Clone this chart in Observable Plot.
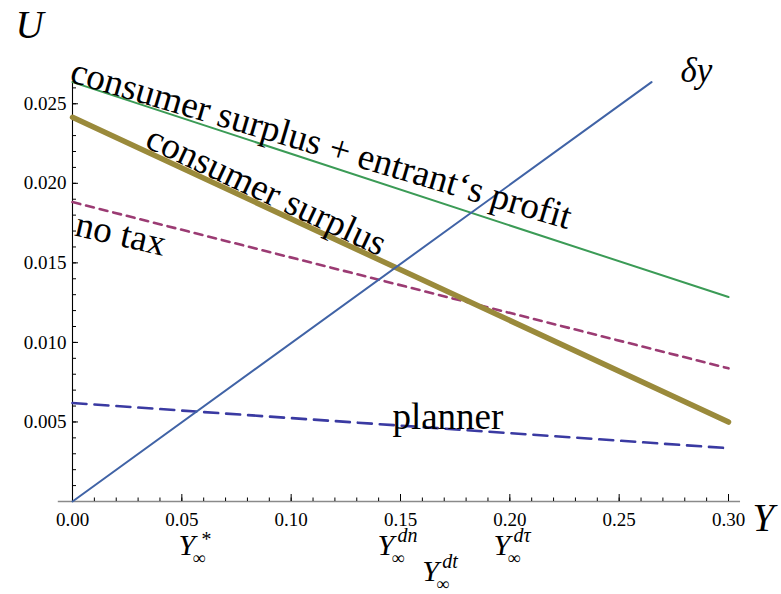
<!DOCTYPE html>
<html><head><meta charset="utf-8">
<script src="https://cdn.jsdelivr.net/npm/d3@7"></script>
<script src="https://cdn.jsdelivr.net/npm/@observablehq/plot@0.6"></script>
<style>
  body { margin: 0; background: #fff; }
  #chart svg { display: block; }
</style>
</head><body><div id="chart"></div>
<script>
// ---- data ----
const xEnds = [0, 0.30];                  // every straight curve spans this range
const deltaX = [0, 0.2648];               // δy line stops at the top of the frame
const deltaY = [0, 0.02636];
const csEntrant = [0.02636, 0.01285];     // consumer surplus + entrant's profit
const consumerSurplus = [0.02415, 0.00499];
const noTax = [0.01882, 0.00837];
const planner = [0.00619, 0.00335];

const xMajor = [0, 0.05, 0.10, 0.15, 0.20, 0.25, 0.30];
const xMinor = d3.range(0, 0.3001, 0.01);
const yMajor = [0.005, 0.010, 0.015, 0.020, 0.025];
const yMinor = d3.range(0.001, 0.0261, 0.001);
const axisExtent = [-0.0065, 0.3055];

const curveLabels = [
  {text: "consumer surplus + entrant\u2018s profit", x: -0.0018, y: 0.0264, rotate: 16.5},
  {text: "consumer surplus", x: 0.0325, y: 0.02232, rotate: 25},
  {text: "no tax", x: 0.0005, y: 0.01673, rotate: 13},
  {text: "planner", x: 0.1463, y: 0.00454, rotate: 0}
];
const deltaLabel = [{text: "\u03B4y", x: 0.278, y: 0.02634}];

const yInf = [
  {x: 0.0485, sup: "*", row: 0},
  {x: 0.1395, sup: "dn", row: 0},
  {x: 0.1925, sup: "d\u03C4", row: 0},
  {x: 0.1600, sup: "dt", row: 1}
];
const rowDy = [53, 79];

const idx = (arr) => arr.map((v, i) => i);
const F = "serif";

const marks = [
  Plot.ruleY([0], {x1: axisExtent[0], x2: axisExtent[1], stroke: "#8a8a8a", strokeWidth: 1.6}),
  Plot.ruleX([0], {stroke: "#000", strokeWidth: 1.1}),
  Plot.axisX({ticks: xMinor, tickSize: -3.5, tickFormat: () => "", label: null, stroke: "#000"}),
  Plot.axisX({ticks: xMajor, tickSize: -7, tickFormat: () => "", label: null, stroke: "#000"}),
  Plot.axisX({ticks: xMajor, tickSize: 0, tickPadding: 11, tickFormat: d3.format(".2f"), label: null, fontSize: 19, fontFamily: F, fill: "#000"}),
  Plot.axisY({ticks: yMinor, tickSize: -4, tickFormat: () => "", label: null, stroke: "#000"}),
  Plot.axisY({ticks: yMajor, tickSize: -6, tickFormat: () => "", label: null, stroke: "#000"}),
  Plot.axisY({ticks: yMajor, tickSize: 0, tickPadding: 6, tickFormat: d3.format(".3f"), label: null, fontSize: 19, fontFamily: F, fill: "#000"}),

  Plot.line(idx(csEntrant), {x: i => xEnds[i], y: i => csEntrant[i], stroke: "#3b9b56", strokeWidth: 2}),
  Plot.line(idx(noTax), {x: i => xEnds[i], y: i => noTax[i], stroke: "#9b3b73", strokeWidth: 2.6, strokeDasharray: "8,6"}),
  Plot.line(idx(planner), {x: i => xEnds[i], y: i => planner[i], stroke: "#3a3aa2", strokeWidth: 2.6, strokeDasharray: "14,8"}),
  Plot.line(idx(consumerSurplus), {x: i => xEnds[i], y: i => consumerSurplus[i], stroke: "#9a8a3b", strokeWidth: 5.5}),
  Plot.line(idx(deltaY), {x: i => deltaX[i], y: i => deltaY[i], stroke: "#4063a6", strokeWidth: 2}),

  ...curveLabels.map(d => Plot.text([d], {x: "x", y: "y", text: "text", rotate: d.rotate,
      textAnchor: "start", lineAnchor: "bottom", fontSize: 37, fontFamily: F, fill: "#000"})),
  Plot.text(deltaLabel, {x: "x", y: "y", text: "text", textAnchor: "start", lineAnchor: "bottom",
      fontSize: 35, fontStyle: "italic", fontFamily: F, fill: "#000"}),

  Plot.text(["U"], {frameAnchor: "top-left", dx: -57, dy: -44, text: d => d, textAnchor: "start",
      lineAnchor: "bottom", fontSize: 39, fontStyle: "italic", fontFamily: F, fill: "#000"}),
  Plot.text(["Y"], {frameAnchor: "bottom-right", dx: 24, dy: 29, text: d => d, textAnchor: "start",
      lineAnchor: "bottom", fontSize: 39, fontStyle: "italic", fontFamily: F, fill: "#000"}),

  ...yInf.flatMap(d => [
    Plot.text([d], {x: "x", frameAnchor: "bottom", dy: rowDy[d.row], text: () => "Y", textAnchor: "start",
        lineAnchor: "bottom", fontSize: 30, fontStyle: "italic", fontFamily: F, fill: "#000"}),
    Plot.text([d], {x: "x", frameAnchor: "bottom", dx: 14, dy: rowDy[d.row] + 9, text: () => "\u221E",
        textAnchor: "start", lineAnchor: "bottom", fontSize: 18, fontFamily: F, fill: "#000"}),
    Plot.text([d], {x: "x", frameAnchor: "bottom", dx: d.sup === "*" ? 22 : 20, dy: rowDy[d.row] - 13 + (d.sup === "*" ? 4 : 0), text: "sup",
        textAnchor: "start", lineAnchor: "bottom", fontSize: 20, fontStyle: "italic", fontFamily: F, fill: "#000"})
  ])
];

const plot = Plot.plot({
  width: 781, height: 594,
  marginLeft: 72, marginRight: 53, marginTop: 81, marginBottom: 93,
  x: {domain: [0, 0.3]},
  y: {domain: [0, 0.0264]},
  style: {background: "#fff", color: "#000", overflow: "visible"},
  marks
});
document.getElementById("chart").appendChild(plot);
</script>
</body></html>
